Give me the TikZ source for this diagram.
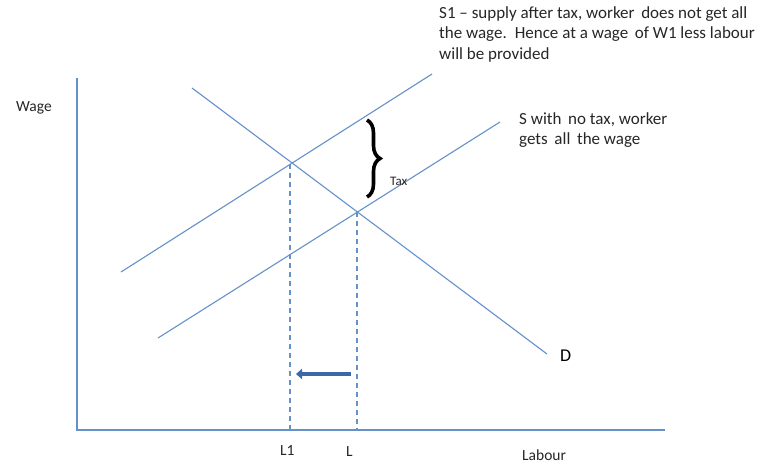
\documentclass[tikz,border=0pt]{standalone}
\usepackage{fontspec}
\setmainfont{Carlito}
\usetikzlibrary{decorations.pathreplacing,arrows.meta}
\definecolor{lineblue}{RGB}{100,145,200}
\definecolor{arrowblue}{RGB}{60,105,165}
\begin{document}
\begin{tikzpicture}[x=1pt,y=-1pt,
  curve/.style={draw=lineblue,line width=1.1pt},
  axisline/.style={draw=lineblue,line width=1.6pt},
  guide/.style={draw=lineblue,line width=1.1pt,dash pattern=on 5pt off 4pt},
  lbl/.style={font=\fontsize{15.5}{18}\selectfont,inner sep=0pt,anchor=west,text=black!85},
  note/.style={font=\fontsize{17}{20.5}\selectfont,inner sep=0pt,anchor=north west,align=left,text=black!85}]
\useasboundingbox (0,0) rectangle (779,464);
% axes
\coordinate (ytop) at (77,78);
\coordinate (origin) at (77,430);
\coordinate (xend) at (665,430);
\draw[axisline] (ytop) -- (origin) -- (xend);
% curves
\coordinate (s1a) at (121,272);
\coordinate (s1b) at (432,74);
\coordinate (sa) at (158,338);
\coordinate (sb) at (500,122);
\coordinate (da) at (192,88);
\coordinate (db) at (547,354);
\draw[curve] (s1a) -- (s1b);
\draw[curve] (sa) -- (sb);
\draw[curve] (da) -- (db);
% intersections and guides
\coordinate (e1) at (290,164);
\coordinate (e0) at (357,212);
\coordinate (l1base) at (290,430);
\coordinate (lbase) at (357,430);
\draw[guide] (e1) -- (l1base);
\draw[guide] (e0) -- (lbase);
% arrow
\coordinate (arrs) at (351,374);
\coordinate (arre) at (296,374);
\draw[arrowblue,line width=4.5pt,-{Triangle[length=6pt,width=10pt]}] (arrs) -- (arre);
% brace
\coordinate (bt) at (367,120);
\coordinate (bb) at (367,197);
\draw[black,line width=3.6pt,decorate,decoration={brace,amplitude=13pt}] (bt) -- (bb);
% labels
\node[lbl] (wage) at (16,108) {Wage};
\node[lbl,font=\fontsize{13}{15}\selectfont] (tax) at (390,181) {Tax};
\node[lbl] (l1) at (280,451) {L1};
\node[lbl] (l) at (346,452) {L};
\node[lbl] (labour) at (522,455) {Labour};
\node[font=\fontsize{18}{20}\selectfont,inner sep=0pt,anchor=west] (d) at (560,356) {D};
\node[note] (snote) at (519,112) {S with\, no tax, worker\\gets\, all\, the wage};
\node[note] (s1note) at (439,6) {S1 -- supply after tax, worker\, does not get all\\the wage.\, Hence at a wage\, of W1 less labour\\will be provided};
\end{tikzpicture}
\end{document}
